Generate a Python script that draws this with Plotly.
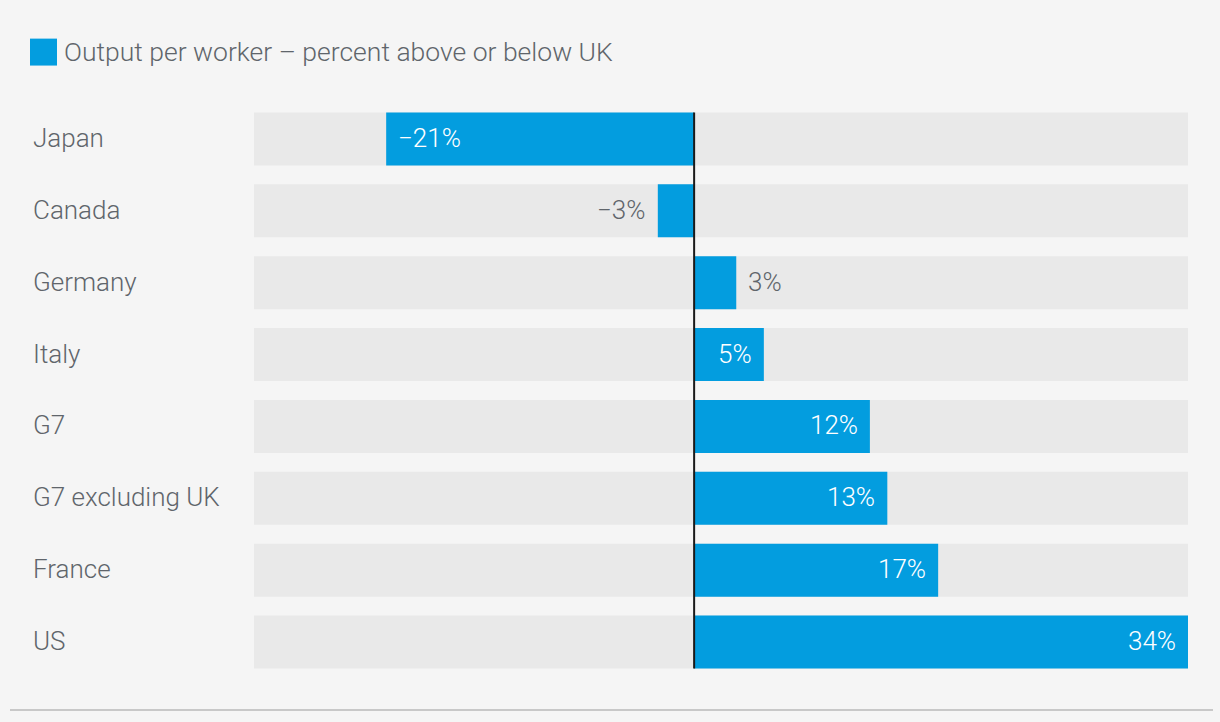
import plotly.graph_objects as go

categories = ["Japan", "Canada", "Germany", "Italy", "G7", "G7 excluding UK", "France", "US"]
values = [-21.2, -2.5, 2.9, 4.8, 12.1, 13.3, 16.8, 34.0]
labels = ["−21%", "−3%", "3%", "5%", "12%", "13%", "17%", "34%"]
label_inside = [True, False, False, True, True, True, True, True]
legend_text = "Output per worker – percent above or below UK"
x_min, x_max = -30.3, 34.0

BLUE = "#039ddf"
TRACK = "#e9e9e9"
BG = "#f5f5f5"
TXT = "#60656b"
FONT = "Roboto"

fig = go.Figure()
fig.add_trace(go.Bar(
    y=categories, x=[x_max - x_min] * len(categories), base=[x_min] * len(categories),
    orientation="h", marker=dict(color=TRACK, line=dict(width=0)),
    hoverinfo="skip", showlegend=False))
fig.add_trace(go.Bar(
    y=categories, x=values, orientation="h", name=legend_text,
    marker=dict(color=BLUE, line=dict(width=0)), showlegend=False))

for c, v, lab, ins in zip(categories, values, labels, label_inside):
    if ins:
        col = "white"
        anchor = "right" if v > 0 else "left"
        shift = -10 if v > 0 else 10
    else:
        col = TXT
        anchor = "left" if v > 0 else "right"
        shift = 10 if v > 0 else -11
    fig.add_annotation(x=v, y=c, xref="x", yref="y", text=lab, showarrow=False,
                       xanchor=anchor, xshift=shift, yshift=1,
                       font=dict(family=FONT, size=26, color=col, weight=300))

for c in categories:
    fig.add_annotation(x=(31 - 254) / 934, y=c, xref="paper", yref="y", text=c,
                       showarrow=False, xanchor="left", yshift=1,
                       font=dict(family=FONT, size=26, color=TXT, weight=300))

# legend
fig.add_shape(type="rect", xref="paper", yref="paper",
              x0=(30 - 254) / 934, x1=(57 - 254) / 934,
              y0=(678.5 - 38) / 576, y1=(678.5 - 65) / 576,
              fillcolor=BLUE, line=dict(width=0))
fig.add_annotation(x=(62 - 254) / 934, y=(678.5 - 51) / 576, xref="paper", yref="paper",
                   text=legend_text, showarrow=False, xanchor="left", yanchor="middle",
                   font=dict(family=FONT, size=26.5, color=TXT, weight=300))

# zero line
fig.add_shape(type="line", xref="x", yref="y", x0=0, x1=0, y0=-0.5 + 0.132, y1=7.5 - 0.132,
              line=dict(color="#1a1a1a", width=2))
# bottom rule
fig.add_shape(type="line", xref="paper", yref="paper",
              x0=(10 - 254) / 934, x1=(1213 - 254) / 934,
              y0=(678.5 - 710.5) / 576, y1=(678.5 - 710.5) / 576,
              line=dict(color="#c8c8c8", width=2))

fig.update_layout(
    width=1220, height=722,
    margin=dict(l=254, r=32, t=102.5, b=43.5),
    paper_bgcolor=BG, plot_bgcolor=BG,
    barmode="overlay", bargap=0.264,
    showlegend=False,
    xaxis=dict(range=[x_min, x_max], visible=False, fixedrange=True),
    yaxis=dict(categoryorder="array", categoryarray=categories, autorange="reversed",
               visible=False, fixedrange=True),
)
fig.write_html("out.html", config={"displayModeBar": False},
               post_script="document.body.style.margin='0';document.body.style.background='#f5f5f5';")
